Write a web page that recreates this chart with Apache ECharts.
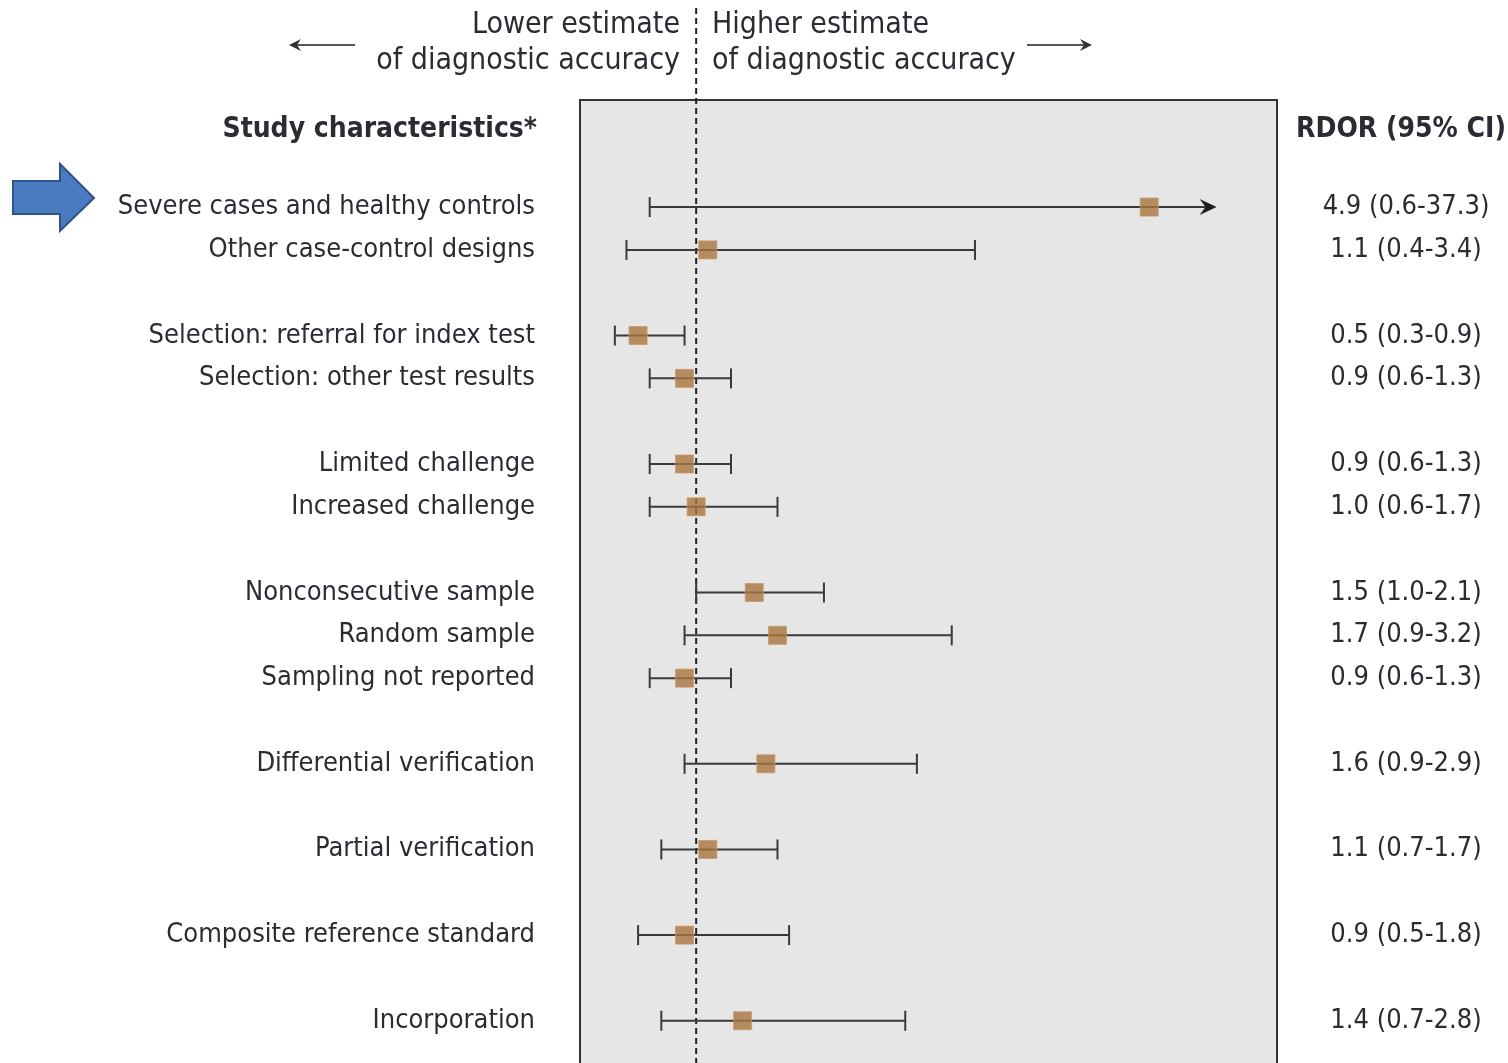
<!DOCTYPE html>
<html>
<head>
<meta charset="utf-8">
<title>Study characteristics and RDOR</title>
<script src="https://cdn.jsdelivr.net/npm/echarts@6/dist/echarts.min.js"></script>
<style>
  html, body { margin: 0; padding: 0; background: #ffffff; }
  #chart { width: 1508px; height: 1063px; }
</style>
</head>
<body>
<div id="chart"></div>
<script>
// Study characteristics and their row slots (gaps separate groups)
const labels = [
  'Severe cases and healthy controls',
  'Other case-control designs',
  'Selection: referral for index test',
  'Selection: other test results',
  'Limited challenge',
  'Increased challenge',
  'Nonconsecutive sample',
  'Random sample',
  'Sampling not reported',
  'Differential verification',
  'Partial verification',
  'Composite reference standard',
  'Incorporation'
];
const rows = [0, 1, 3, 4, 6, 7, 9, 10, 11, 13, 15, 17, 19];

// Relative diagnostic odds ratios with 95% confidence intervals
const rdor  = [4.9, 1.1, 0.5, 0.9, 0.9, 1.0, 1.5, 1.7, 0.9, 1.6, 1.1, 0.9, 1.4];
const lower = [0.6, 0.4, 0.3, 0.6, 0.6, 0.6, 1.0, 0.9, 0.6, 0.9, 0.7, 0.5, 0.7];
const upper = [37.3, 3.4, 0.9, 1.3, 1.3, 1.7, 2.1, 3.2, 1.3, 2.9, 1.7, 1.8, 2.8];

// Text column on the right
const ciText = [
  '4.9 (0.6-37.3)', '1.1 (0.4-3.4)', '0.5 (0.3-0.9)', '0.9 (0.6-1.3)',
  '0.9 (0.6-1.3)', '1.0 (0.6-1.7)', '1.5 (1.0-2.1)', '1.7 (0.9-3.2)',
  '0.9 (0.6-1.3)', '1.6 (0.9-2.9)', '1.1 (0.7-1.7)', '0.9 (0.5-1.8)',
  '1.4 (0.7-2.8)'
];

// Axis range and the value where off-scale intervals are cut with an arrow
const X_MIN = 0, X_MAX = 6, ARROW_AT = 5.48;
const NULL_VALUE = 1;

const FONT = '"DejaVu Sans Condensed", "DejaVu Sans", sans-serif';
const TEXT = '#2b2b33';
const LINE = '#3a3a3a';

const leftName = {}, rightName = {};
rows.forEach((r, i) => { leftName[r] = labels[i]; rightName[r] = ciText[i]; });

const intervalData = rows.map((r, i) => [lower[i], upper[i], r]);
const pointData = rows.map((r, i) => [rdor[i], r]);

const chart = echarts.init(document.getElementById('chart'), null, { renderer: 'canvas' });

function renderInterval(params, api) {
  const lo = api.value(0), hi = api.value(1), row = api.value(2);
  const clipped = hi > ARROW_AT;
  const p0 = api.coord([lo, row]);
  const p1 = api.coord([clipped ? ARROW_AT : hi, row]);
  const cap = 10;
  const children = [];
  const stroke = { stroke: LINE, lineWidth: 2 };
  if (clipped) {
    children.push({ type: 'line', shape: { x1: p0[0], y1: p0[1], x2: p1[0] - 6, y2: p1[1] }, style: stroke });
    children.push({
      type: 'polygon',
      shape: { points: [[p1[0], p1[1]], [p1[0] - 17, p1[1] - 8], [p1[0] - 11, p1[1]], [p1[0] - 17, p1[1] + 8]] },
      style: { fill: '#1e1e1e' }
    });
  } else {
    children.push({ type: 'line', shape: { x1: p0[0], y1: p0[1], x2: p1[0], y2: p1[1] }, style: stroke });
    children.push({ type: 'line', shape: { x1: p1[0], y1: p1[1] - cap, x2: p1[0], y2: p1[1] + cap }, style: stroke });
  }
  children.push({ type: 'line', shape: { x1: p0[0], y1: p0[1] - cap, x2: p0[0], y2: p0[1] + cap }, style: stroke });
  return { type: 'group', children };
}

const option = {
  animation: false,
  backgroundColor: '#ffffff',
  grid: {
    left: 580, right: 231, top: 100, bottom: -22,
    outerBoundsMode: 'none', containLabel: false,
    show: true, backgroundColor: '#e6e6e6', borderColor: '#333333', borderWidth: 2
  },
  xAxis: {
    type: 'value', min: X_MIN, max: X_MAX,
    axisLine: { show: false }, axisTick: { show: false },
    axisLabel: { show: false }, splitLine: { show: false }
  },
  yAxis: [
    {
      type: 'value', inverse: true, min: -2.5, max: 20.5, interval: 0.5,
      axisLine: { show: false }, axisTick: { show: false }, splitLine: { show: false },
      axisLabel: {
        margin: 45, color: TEXT, fontFamily: FONT, fontSize: 27,
        formatter: v => leftName[v] || ''
      }
    },
    {
      type: 'value', inverse: true, min: -2.5, max: 20.5, interval: 0.5, position: 'right',
      axisLine: { show: false }, axisTick: { show: false }, splitLine: { show: false },
      axisLabel: {
        margin: 129, align: 'center', color: TEXT, fontFamily: FONT, fontSize: 27,
        formatter: v => rightName[v] || ''
      }
    }
  ],
  series: [
    {
      type: 'custom', name: 'CI', renderItem: renderInterval,
      data: intervalData, encode: { x: [0, 1], y: 2 }, clip: false, z: 2
    },
    {
      type: 'scatter', name: 'RDOR', data: pointData,
      symbol: 'rect', symbolSize: 18,
      itemStyle: { color: '#a9743f', borderColor: '#c9996a', borderWidth: 1 },
      z: 3
    }
  ]
};
chart.setOption(option);

// Reference line at RDOR = 1, headers and direction notes
const xNull = chart.convertToPixel({ xAxisIndex: 0 }, NULL_VALUE);
chart.setOption({
  graphic: [
    { type: 'line', z: 1, shape: { x1: xNull, y1: 8, x2: xNull, y2: 1063 },
      style: { stroke: '#222222', lineWidth: 2, lineDash: [6, 4] } },
    { type: 'text', x: 537, y: 130, style: { text: 'Study characteristics*', font: 'bold 28px ' + FONT, fill: TEXT, align: 'right', verticalAlign: 'middle' } },
    { type: 'text', x: 1401, y: 130, style: { text: 'RDOR (95% CI)', font: 'bold 28px ' + FONT, fill: TEXT, align: 'center', verticalAlign: 'middle' } },
    { type: 'text', x: 680, y: 25, style: { text: 'Lower estimate', font: '30px ' + FONT, fill: TEXT, align: 'right', verticalAlign: 'middle' } },
    { type: 'text', x: 680, y: 61, style: { text: 'of diagnostic accuracy', font: '30px ' + FONT, fill: TEXT, align: 'right', verticalAlign: 'middle' } },
    { type: 'text', x: 712, y: 25, style: { text: 'Higher estimate', font: '30px ' + FONT, fill: TEXT, align: 'left', verticalAlign: 'middle' } },
    { type: 'text', x: 712, y: 61, style: { text: 'of diagnostic accuracy', font: '30px ' + FONT, fill: TEXT, align: 'left', verticalAlign: 'middle' } },
    // left-pointing note arrow
    { type: 'line', shape: { x1: 294, y1: 45, x2: 355, y2: 45 }, style: { stroke: '#555555', lineWidth: 2 } },
    { type: 'polygon', shape: { points: [[289, 45], [301, 39], [297, 45], [301, 51]] }, style: { fill: '#333333' } },
    // right-pointing note arrow
    { type: 'line', shape: { x1: 1027, y1: 45, x2: 1087, y2: 45 }, style: { stroke: '#555555', lineWidth: 2 } },
    { type: 'polygon', shape: { points: [[1092, 45], [1080, 39], [1084, 45], [1080, 51]] }, style: { fill: '#333333' } },
    // highlight arrow beside the first row
    { type: 'polygon', shape: { points: [[13, 181], [60, 181], [60, 164], [94, 198], [60, 231], [60, 214], [13, 214]] },
      style: { fill: '#4a7abf', stroke: '#2f528f', lineWidth: 2 } }
  ]
});
</script>
</body>
</html>
